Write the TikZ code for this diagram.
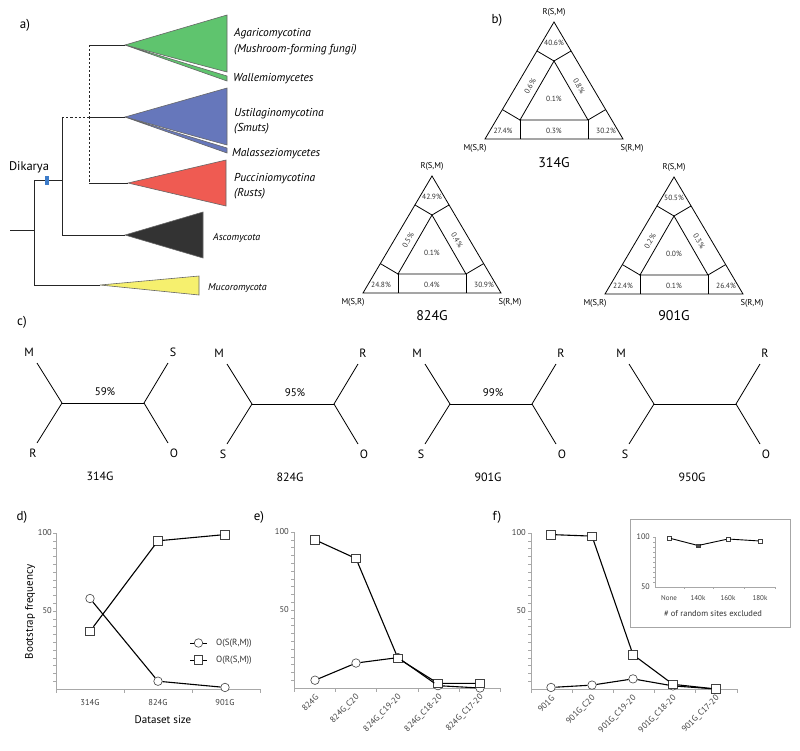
\documentclass[tikz,border=0pt]{standalone}
\usepackage{fontspec}
\setmainfont{PT Sans}
\usetikzlibrary{calc}
\newcommand\fs[1]{\fontsize{#1}{#1}\selectfont}
\definecolor{cgreen}{HTML}{5FC46E}
\definecolor{cblue}{HTML}{6677BB}
\definecolor{cred}{HTML}{EF5B52}
\definecolor{cdark}{HTML}{333333}
\definecolor{cyellow}{HTML}{F6F06E}
\definecolor{cmark}{HTML}{3D7CC9}
\definecolor{axgrey}{HTML}{A8A8A8}
\tikzset{
  tree/.style={line width=0.9pt, draw=black!85},
  dashtree/.style={tree, dash pattern=on 2.2pt off 2pt},
  clade/.style={draw=black!60, line width=0.6pt},
  lab/.style={font=\fs{11.5}\itshape, anchor=west, inner sep=0},
  slab/.style={font=\fs{10}\itshape, anchor=west, inner sep=0},
  panel/.style={font=\fs{13}, inner sep=0},
  tri/.style={line width=0.8pt, draw=black},
  pct/.style={font=\fs{7.5}, inner sep=0, text=black!80},
  vlab/.style={font=\fs{8.5}, inner sep=0},
  ttl/.style={font=\fs{14}, inner sep=0},
  ctr/.style={line width=0.8pt, draw=black},
  clab/.style={font=\fs{12}, inner sep=0},
  cpct/.style={font=\fs{11}, inner sep=0},
  axis/.style={draw=axgrey, line width=0.6pt},
  data/.style={line width=1.1pt, draw=black},
  circ/.style={circle, draw=black!75, fill=white, minimum size=8.5pt, inner sep=0, line width=0.6pt},
  sqm/.style={rectangle, draw=black!75, fill=white, minimum size=8.5pt, inner sep=0, line width=0.6pt},
  smq/.style={rectangle, draw=black!75, fill=white, minimum size=3.5pt, inner sep=0, line width=0.5pt},
  ytl/.style={font=\fs{8.5}, inner sep=0, text=black!75, anchor=east},
  xtl/.style={font=\fs{8.5}, inner sep=0, text=black!75},
  rtl/.style={font=\fs{8.5}, inner sep=0, text=black!75, anchor=east, rotate=45},
  atitle/.style={font=\fs{11}, inner sep=0},
  leg/.style={font=\fs{9}, inner sep=0, anchor=west, text=black!80},
  itl/.style={font=\fs{7}, inner sep=0, text=black!75},
}
\newcommand\ternary[8]{%
  \coordinate (#1B) at (0,0);
  \coordinate (#1C) at (138,0);
  \coordinate (#1A) at (69,-117);
  \coordinate (#1iA) at (69,-78);
  \coordinate (#1iB) at (35,-19);
  \coordinate (#1iC) at (103,-19);
  \coordinate (#1pAl) at ($(#1B)!(#1iA)!(#1A)$);
  \coordinate (#1pAr) at ($(#1C)!(#1iA)!(#1A)$);
  \coordinate (#1pBl) at ($(#1B)!(#1iB)!(#1A)$);
  \coordinate (#1pBb) at ($(#1B)!(#1iB)!(#1C)$);
  \coordinate (#1pCr) at ($(#1C)!(#1iC)!(#1A)$);
  \coordinate (#1pCb) at ($(#1B)!(#1iC)!(#1C)$);
  \draw[tri] (#1A) -- (#1B) -- (#1C) -- cycle;
  \draw[tri] (#1iA) -- (#1iB) -- (#1iC) -- cycle;
  \draw[tri] (#1iA) -- (#1pAl);
  \draw[tri] (#1iA) -- (#1pAr);
  \draw[tri] (#1iB) -- (#1pBl);
  \draw[tri] (#1iB) -- (#1pBb);
  \draw[tri] (#1iC) -- (#1pCr);
  \draw[tri] (#1iC) -- (#1pCb);
  \node[vlab] (#1lA) at (69,-127) {R(S,M)};
  \node[vlab] (#1lB) at (-10,9) {M(S,R)};
  \node[vlab] (#1lC) at (147,9) {S(R,M)};
  \node[pct] (#1v1) at (69,-96) {#2};
  \node[pct, rotate=59.5] (#1v2) at (45,-53) {#3};
  \node[pct, rotate=-59.5] (#1v3) at (94,-53) {#4};
  \node[pct] (#1v4) at (69,-40) {#5};
  \node[pct] (#1v5) at (18,-8) {#6};
  \node[pct] (#1v6) at (69,-8) {#7};
  \node[pct] (#1v7) at (121,-8) {#8};
}
\newcommand\ctree[7]{%
  \coordinate (#1l) at (0,0);
  \coordinate (#1r) at (82,0);
  \coordinate (#1tl) at (-25,-40);
  \coordinate (#1bl) at (-25,40);
  \coordinate (#1tr) at (106,-40);
  \coordinate (#1br) at (106,40);
  \draw[ctr] (#1tl) -- (#1l) -- (#1bl);
  \draw[ctr] (#1l) -- (#1r);
  \draw[ctr] (#1tr) -- (#1r) -- (#1br);
  \node[clab] (#1a) at (-33,-51) {#2};
  \node[clab] (#1b) at (-29,50) {#3};
  \node[clab] (#1c) at (111,-51) {#4};
  \node[clab] (#1d) at (112,50) {#5};
  \node[cpct] (#1p) at (43,-11) {#6};
  \node[clab] (#1t) at (38,73) {#7};
}
\begin{document}
\begin{tikzpicture}[x=1pt,y=-1pt]
\useasboundingbox (0,0) rectangle (800,750);
\fill[white] (0,0) rectangle (800,750);

% ---------------- panel a ----------------
\node[panel] (pa) at (25,25) {a)};
\coordinate (n0) at (10,230);
\coordinate (n1r) at (34,230);
\coordinate (n1t) at (34,180);
\coordinate (n1b) at (34,285);
\coordinate (n2t) at (62,117);
\coordinate (n2m) at (62,180);
\coordinate (n2b) at (62,235);
\coordinate (n3t) at (89,45);
\coordinate (n3m) at (89,117);
\coordinate (n3b) at (89,183);
\coordinate (aga) at (125,45);
\coordinate (ust) at (125,117);
\coordinate (puc) at (128,183);
\coordinate (asc) at (125,235);
\coordinate (muc) at (100,285);

\filldraw[clade, fill=cgreen] (aga) -- (227,15) -- (227,72) -- cycle;
\filldraw[clade, fill=cgreen] (aga) -- (227,76) -- (227,81) -- cycle;
\filldraw[clade, fill=cblue] (ust) -- (227,88) -- (227,145) -- cycle;
\filldraw[clade, fill=cblue] (ust) -- (227,148) -- (227,153) -- cycle;
\filldraw[clade, fill=cred] (puc) -- (226,160) -- (226,206) -- cycle;
\filldraw[clade, fill=cdark] (asc) -- (203,212) -- (203,258) -- cycle;
\filldraw[clade, fill=cyellow] (muc) -- (199,276) -- (199,295) -- cycle;

\draw[tree] (n0) -- (n1r);
\draw[tree] (n1t) -- (n1b);
\draw[tree] (n1t) -- (n2m);
\draw[tree] (n2t) -- (n2b);
\draw[tree] (n2b) -- (asc);
\draw[tree] (n1b) -- (muc);
\draw[dashtree] (n2t) -- (n3m);
\draw[dashtree] (n3t) -- (n3b);
\draw[tree] (n3t) -- (aga);
\draw[tree] (n3m) -- (ust);
\draw[tree] (n3b) -- (puc);
\node[fill=cmark, minimum width=4pt, minimum height=9pt, inner sep=0] (dmark) at (47,180) {};
\node[font=\fs{12.5}, inner sep=0] (dik) at (29,167) {Dikarya};

\node[lab] (t1) at (234,34) {Agaricomycotina};
\node[lab] (t2) at (234,50) {(Mushroom-forming fungi)};
\node[lab] (t3) at (233,79) {Wallemiomycetes};
\node[lab] (t4) at (234,114) {Ustilaginomycotina};
\node[lab] (t5) at (234,129) {(Smuts)};
\node[lab] (t6) at (232,154) {Malasseziomycetes};
\node[lab] (t7) at (234,179) {Pucciniomycotina};
\node[lab] (t8) at (234,194) {(Rusts)};
\node[slab] (t9) at (213,238) {Ascomycota};
\node[slab] (t10) at (208,288) {Mucoromycota};

% ---------------- panel b ----------------
\node[panel] (pb) at (497,20) {b)};
\begin{scope}[shift={(485,139)}]
  \ternary{ta}{40.6\%}{0.6\%}{0.8\%}{0.1\%}{27.4\%}{0.3\%}{30.2\%}
\end{scope}
\begin{scope}[shift={(363,293)}]
  \ternary{tb}{42.9\%}{0.5\%}{0.4\%}{0.1\%}{24.8\%}{0.4\%}{30.9\%}
\end{scope}
\begin{scope}[shift={(605,294)}]
  \ternary{tc}{50.5\%}{0.2\%}{0.3\%}{0.0\%}{22.4\%}{0.1\%}{26.4\%}
\end{scope}
\node[ttl] (ta) at (554,163) {314G};
\node[ttl] (tb) at (432,316) {824G};
\node[ttl] (tc) at (674,316) {901G};

% ---------------- panel c ----------------
\node[panel] (pc) at (22,322) {c)};
\begin{scope}[shift={(62,403)}]
  \ctree{ca}{M}{R}{S}{O}{59\%}{314G}
\end{scope}
\begin{scope}[shift={(252,404)}]
  \ctree{cb}{M}{S}{R}{O}{95\%}{824G}
\end{scope}
\begin{scope}[shift={(450,404)}]
  \ctree{cc}{M}{S}{R}{O}{99\%}{901G}
\end{scope}
\begin{scope}[shift={(654,404)}]
  \ctree{cd}{M}{S}{R}{O}{}{950G}
\end{scope}

% ---------------- panel d ----------------
\node[panel] (pd) at (22,517) {d)};
\node[atitle, rotate=90] (dyl) at (30,612) {Bootstrap frequency};
\node[atitle] (dxl) at (163,720) {Dataset size};
\begin{scope}[shift={(0,689)}, y=1.56pt]
  \draw[axis] (56,0) -- (56,100);
  \foreach \v in {5,10,...,100} \draw[axis] (56,\v) -- ++(-3,0);
  \draw[axis] (56,0) -- (260,0);
  \foreach \x in {56,124,192,260} \draw[axis] (\x,0) -- ++(0,-2.5);
  \node[ytl] (dy100) at (52,100) {100};
  \node[ytl] (dy50) at (52,50) {50};
  \node[xtl] (dx1) at (90,-8.5) {314G};
  \node[xtl] (dx2) at (158,-8.5) {824G};
  \node[xtl] (dx3) at (225,-8.5) {901G};
  \node[circ] (dc1) at (90,58) {};
  \node[circ] (dc2) at (158,5) {};
  \node[circ] (dc3) at (225,1) {};
  \node[sqm] (ds1) at (90,37) {};
  \node[sqm] (ds2) at (158,95) {};
  \node[sqm] (ds3) at (225,99) {};
  \draw[data] (dc1) -- (dc2) -- (dc3);
  \draw[data] (ds1) -- (ds2) -- (ds3);
\end{scope}
\coordinate (lga) at (190,643);
\coordinate (lgb) at (207,643);
\coordinate (lgc) at (190,660);
\coordinate (lgd) at (207,660);
\node[circ] (lgcirc) at (198.5,643) {};
\node[sqm] (lgsq) at (198.5,660) {};
\draw[data, line width=0.8pt] (lga) -- (lgcirc) -- (lgb);
\draw[data, line width=0.8pt] (lgc) -- (lgsq) -- (lgd);
\node[leg] (lgt1) at (216,643) {O(S(R,M))};
\node[leg] (lgt2) at (216,660) {O(R(S,M))};

% ---------------- panel e ----------------
\node[panel] (pe) at (259,517) {e)};
\begin{scope}[shift={(0,688)}, y=1.56pt]
  \draw[axis] (294,0) -- (294,100);
  \foreach \v in {5,10,...,100} \draw[axis] (294,\v) -- ++(-3,0);
  \draw[axis] (294,0) -- (500,0);
  \foreach \x in {294,335.5,376.7,418,459,500} \draw[axis] (\x,0) -- ++(0,-2.5);
  \node[ytl] (ey100) at (289,100) {100};
  \node[ytl] (ey50) at (289,50) {50};
  \node[rtl] (ex1) at (317,-5) {824G};
  \node[rtl] (ex2) at (358,-5) {824G\_C20};
  \node[rtl] (ex3) at (400,-5) {824G\_C19-20};
  \node[rtl] (ex4) at (441,-5) {824G\_C18-20};
  \node[rtl] (ex5) at (482,-5) {824G\_C17-20};
  \node[circ] (ec1) at (315,5) {};
  \node[circ] (ec2) at (356,16) {};
  \node[circ] (ec3) at (398,19.5) {};
  \node[circ] (ec4) at (438,1.5) {};
  \node[circ] (ec5) at (480,0) {};
  \node[sqm] (es1) at (315,95) {};
  \node[sqm] (es2) at (356,83) {};
  \node[sqm] (es3) at (398,19) {};
  \node[sqm] (es4) at (438,3) {};
  \node[sqm] (es5) at (480,3) {};
  \draw[data] (ec1) -- (ec2) -- (ec3) -- (ec4) -- (ec5);
  \draw[data] (es1) -- (es2) -- (es3) -- (es4) -- (es5);
\end{scope}

% ---------------- panel f ----------------
\node[panel] (pf) at (497,517) {f)};
\begin{scope}[shift={(0,689)}, y=1.56pt]
  \draw[axis] (531,0) -- (531,100);
  \foreach \v in {5,10,...,100} \draw[axis] (531,\v) -- ++(-3,0);
  \draw[axis] (531,0) -- (737,0);
  \foreach \x in {531,572,613,654,695,737} \draw[axis] (\x,0) -- ++(0,-2.5);
  \node[ytl] (fy100) at (526,100) {100};
  \node[ytl] (fy50) at (526,50) {50};
  \node[rtl] (fx1) at (553,-5) {901G};
  \node[rtl] (fx2) at (594,-5) {901G\_C20};
  \node[rtl] (fx3) at (635,-5) {901G\_C19-20};
  \node[rtl] (fx4) at (675,-5) {901G\_C18-20};
  \node[rtl] (fx5) at (718,-5) {901G\_C17-20};
  \node[circ] (fc1) at (551,1) {};
  \node[circ] (fc2) at (592,2.5) {};
  \node[circ] (fc3) at (633,6.5) {};
  \node[circ] (fc4) at (673,2) {};
  \node[circ] (fc5) at (716,0) {};
  \node[sqm] (fs1) at (551,99) {};
  \node[sqm] (fs2) at (592,98) {};
  \node[sqm] (fs3) at (633,22) {};
  \node[sqm] (fs4) at (673,3) {};
  \node[sqm] (fs5) at (716,0) {};
  \draw[data] (fc1) -- (fc2) -- (fc3) -- (fc4) -- (fc5);
  \draw[data] (fs1) -- (fs2) -- (fs3) -- (fs4) -- (fs5);
\end{scope}

% ---------------- inset ----------------
\filldraw[draw=black!35, fill=white, line width=0.7pt] (630,519) rectangle (790,627);
\begin{scope}[shift={(0,587)}, y=1pt]
  \draw[axis] (655,0) -- (655,50);
  \foreach \v in {5,10,...,50} \draw[axis] (655,\v) -- ++(-2.5,0);
  \draw[axis] (655,0) -- (775,0);
  \foreach \x in {684,713,744,775} \draw[axis] (\x,0) -- ++(0,-2);
  \node[ytl, font=\fs{8}] (iy100) at (650,50) {100};
  \node[ytl, font=\fs{8}] (iy50) at (650,0) {50};
  \node[itl] (ix1) at (669,-11) {None};
  \node[itl] (ix2) at (698,-11) {140k};
  \node[itl] (ix3) at (728,-11) {160k};
  \node[itl] (ix4) at (760,-11) {180k};
  \node[smq] (ip1) at (669,49) {};
  \node[smq, fill=black!70] (ip2) at (698,41.5) {};
  \node[smq] (ip3) at (728,48) {};
  \node[smq] (ip4) at (760,46) {};
  \draw[data, line width=0.9pt] (ip1) -- (ip2) -- (ip3) -- (ip4);
\end{scope}
\node[font=\fs{8.5}, inner sep=0, text=black!80] (ixl) at (713,614) {\# of random sites excluded};

\end{tikzpicture}
\end{document}
